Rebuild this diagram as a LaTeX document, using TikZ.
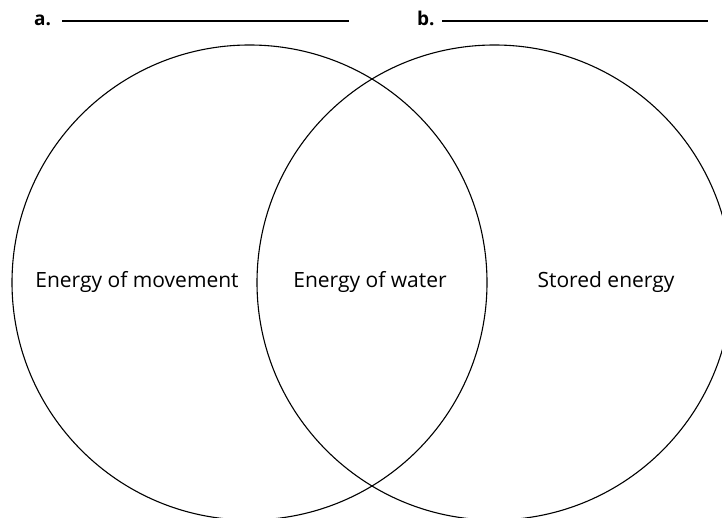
\documentclass[tikz,border=0pt]{standalone}
\usepackage{fontspec}
\setmainfont{Open Sans}
\usetikzlibrary{positioning}
\tikzset{
  vennCircle/.style={circle, draw=black, line width=1.1pt, minimum size=475pt, inner sep=0pt},
  vennText/.style={font=\fontsize{21}{24}\selectfont, inner sep=0pt},
  tagText/.style={font=\bfseries\fontsize{19}{22}\selectfont, inner sep=0pt, anchor=base west},
  blankLine/.style={line width=1.1pt},
}
\begin{document}
\begin{tikzpicture}[x=1pt, y=-1pt]
  \useasboundingbox (0,0) rectangle (722,518);
  \clip (0,0) rectangle (722,518);
  % circles
  \node[vennCircle] (left) at (249.5,282.5) {};
  \node[vennCircle] (right) at (494.5,282.5) {};
  % labels inside
  \node[vennText] (move) at (137,282) {Energy of movement};
  \node[vennText] (water) at (370,282) {Energy of water};
  \node[vennText] (stored) at (606,282) {Stored energy};
  % headings
  \node[tagText] (a) at (34,26) {a.};
  \coordinate (aL) at (62,21);
  \coordinate (aR) at (349,21);
  \draw[blankLine] (aL) -- (aR);
  \node[tagText] (b) at (417,26) {b.};
  \coordinate (bL) at (442,21);
  \coordinate (bR) at (708,21);
  \draw[blankLine] (bL) -- (bR);
\end{tikzpicture}
\end{document}
